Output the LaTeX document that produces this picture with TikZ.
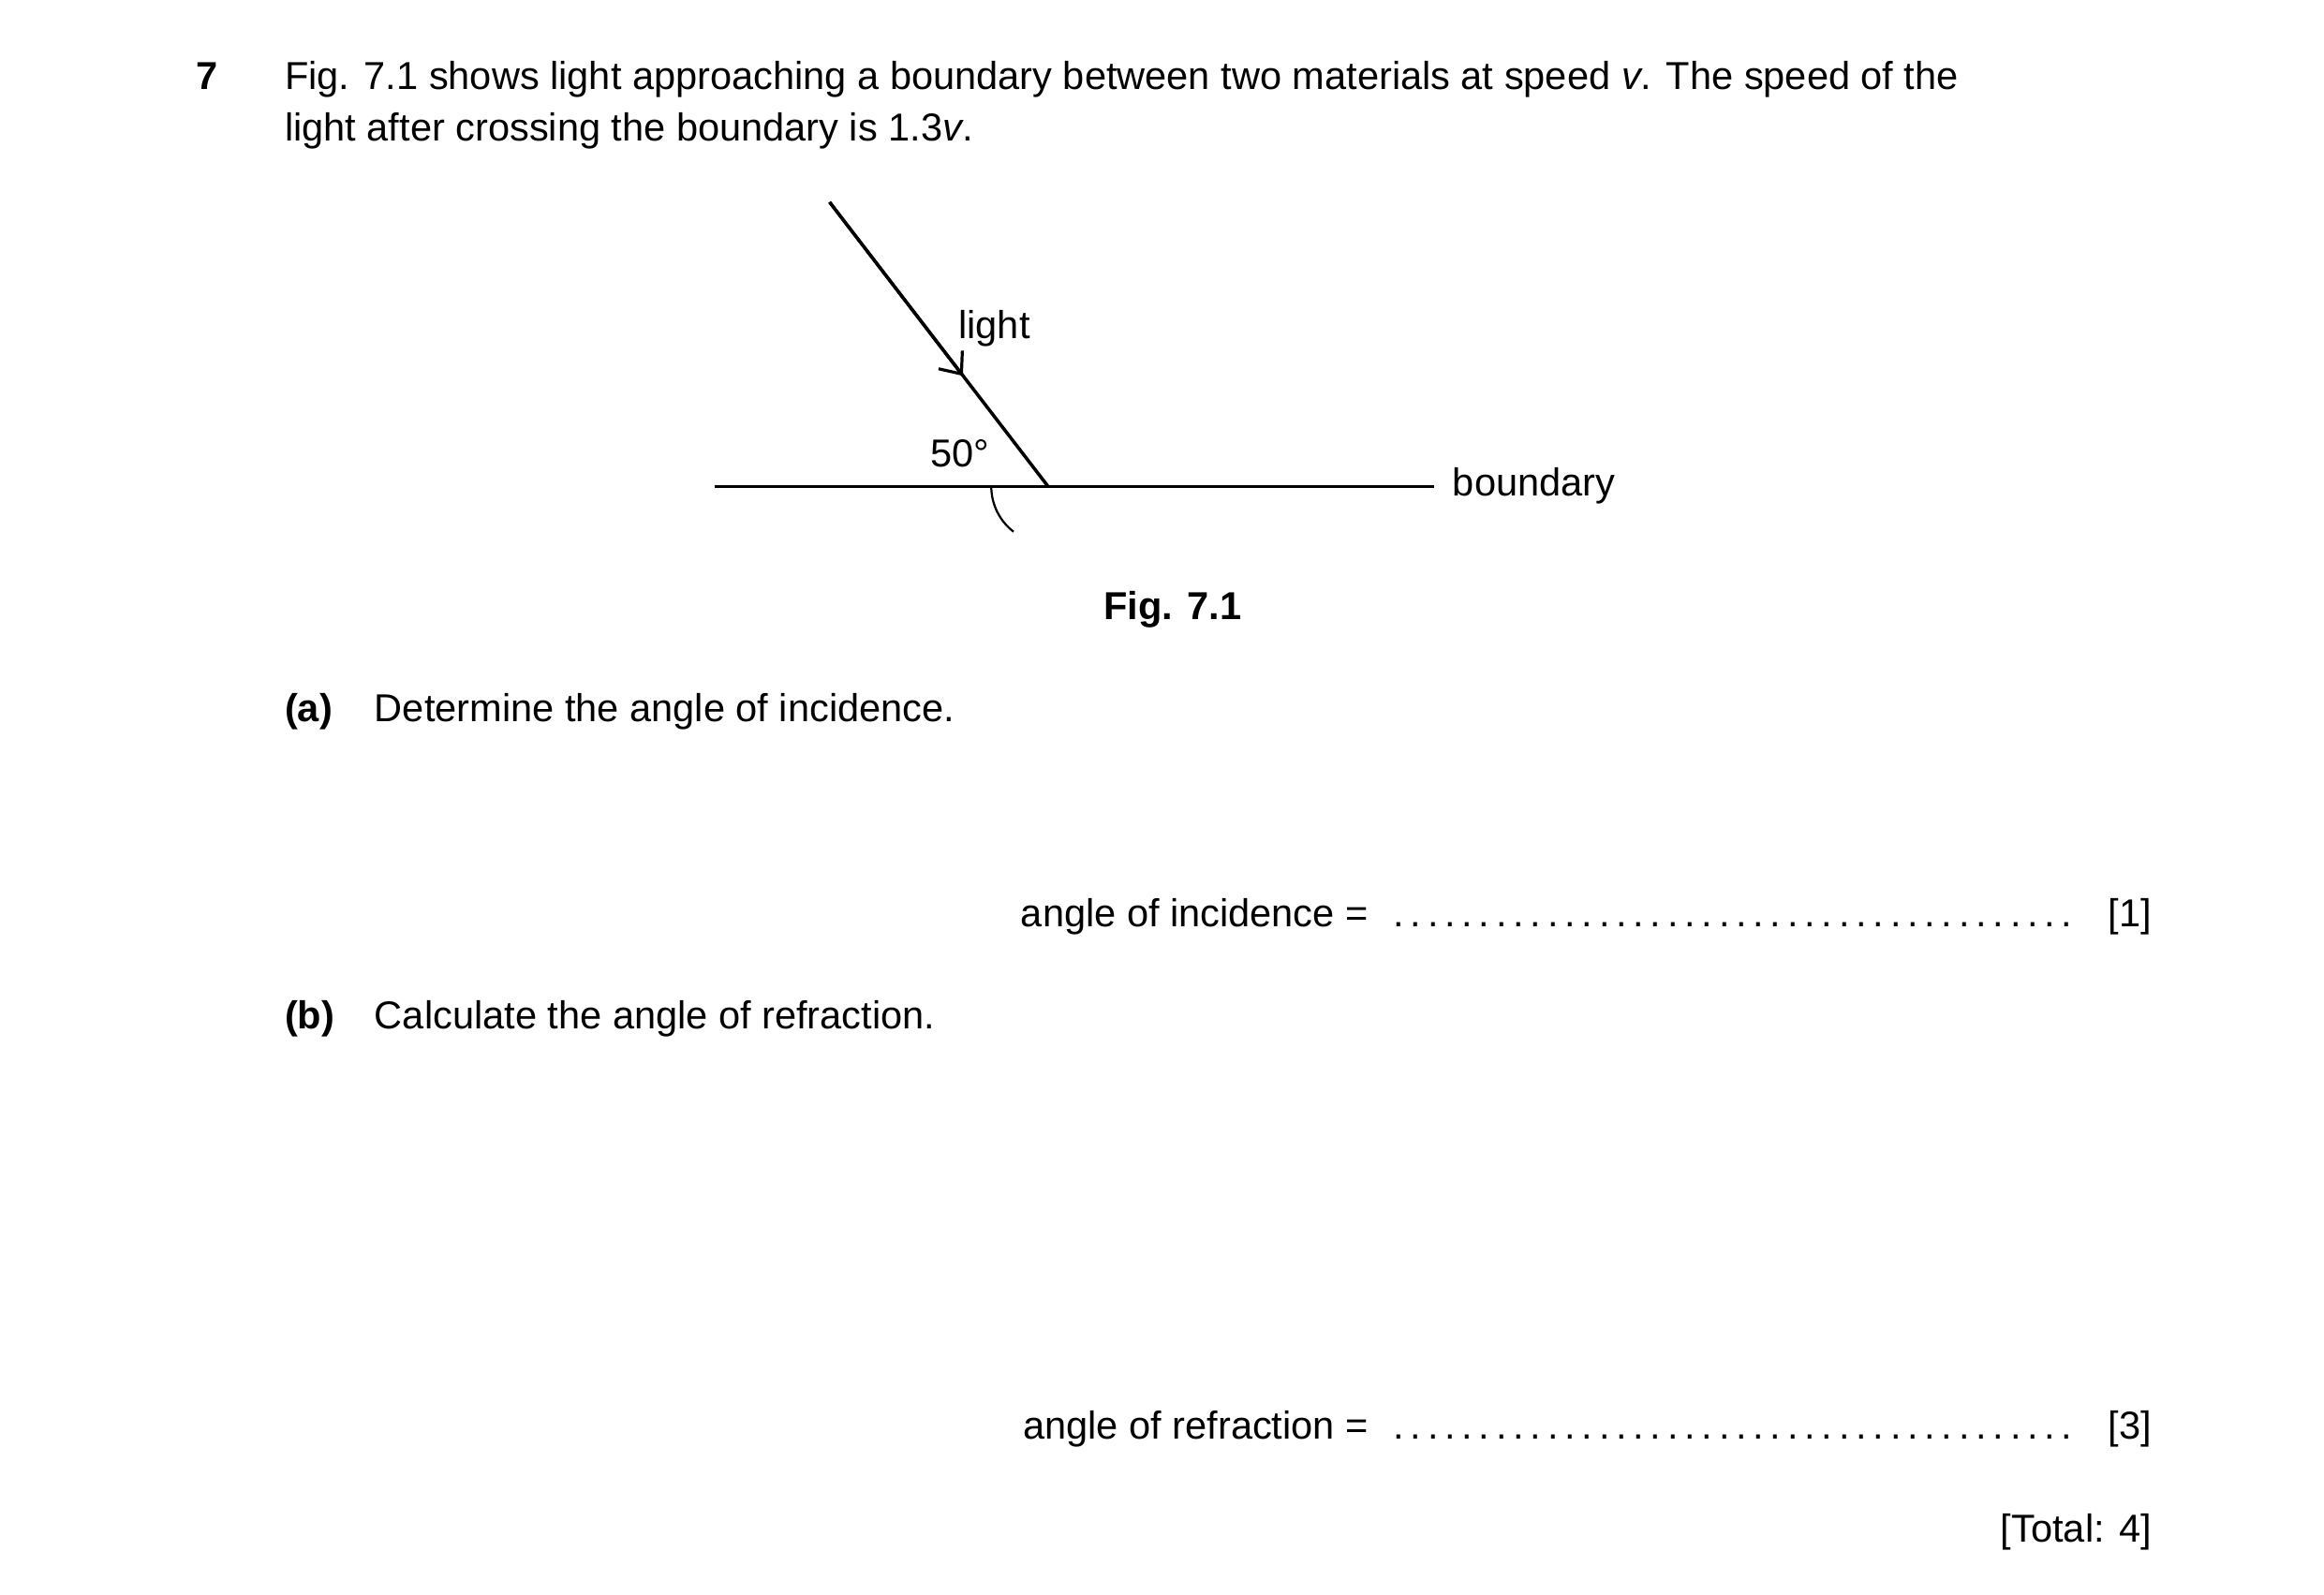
\documentclass[tikz,border=0pt]{standalone}
\usepackage{fontspec}
\setmainfont{Liberation Sans}
\usetikzlibrary{arrows.meta}
\begin{document}
\begin{tikzpicture}[x=1pt,y=-1pt,
  txt/.style={inner sep=0pt,font=\fontsize{26}{34}\selectfont,anchor=base west},
  ln/.style={line width=2.2pt}]
\useasboundingbox[fill=white] (0,0) rectangle (1552,1065);
\node[txt,font=\fontsize{26}{34}\selectfont\bfseries] (q) at (131,60) {7};
\node[txt] (l1) at (190,60) {Fig. 7.1 shows light approaching a boundary between two materials at speed \textit{v}. The speed of the};
\node[txt] (l2) at (190,94) {light after crossing the boundary is 1.3\textit{v}.};
% figure
\coordinate (s) at (554,135);
\coordinate (o) at (700,325);
\coordinate (m) at (643,251);
\coordinate (bl) at (477,325);
\coordinate (br) at (958,325);
\draw[ln] (bl) -- (br);
\draw[ln] (s) -- (o);
\draw[line width=2pt,-{Straight Barb[length=12pt,width=20pt,line width=2pt]}] (s) -- (m);
\draw[line width=1.4pt] ([shift={(180:38)}]o) arc[start angle=180,end angle=127.5,radius=38];
\node[txt] (light) at (640,226) {light};
\node[txt] (ang) at (621,312) {50°};
\node[txt] (bd) at (970,331) {boundary};
\node[txt,anchor=base,font=\fontsize{26}{34}\selectfont\bfseries] (fig) at (783,414) {Fig. 7.1};
% parts
\node[txt,font=\fontsize{26}{34}\selectfont\bfseries] (pa) at (190,482) {(a)};
\node[txt] (ta) at (250,482) {Determine the angle of incidence.};
\node[txt,anchor=base east] (ai) at (914,619) {angle of incidence =};
\node[txt,anchor=base west] (da) at (928,619) {\makebox[458pt]{\dotfill}};
\node[txt,anchor=base east] (m1) at (1437,619) {[1]};
\node[txt,font=\fontsize{26}{34}\selectfont\bfseries] (pb) at (190,687) {(b)};
\node[txt] (tb) at (250,687) {Calculate the angle of refraction.};
\node[txt,anchor=base east] (ar) at (914,961) {angle of refraction =};
\node[txt,anchor=base west] (db) at (928,961) {\makebox[458pt]{\dotfill}};
\node[txt,anchor=base east] (m3) at (1437,961) {[3]};
\node[txt,anchor=base east] (tot) at (1437,1030) {[Total: 4]};
\end{tikzpicture}
\end{document}
